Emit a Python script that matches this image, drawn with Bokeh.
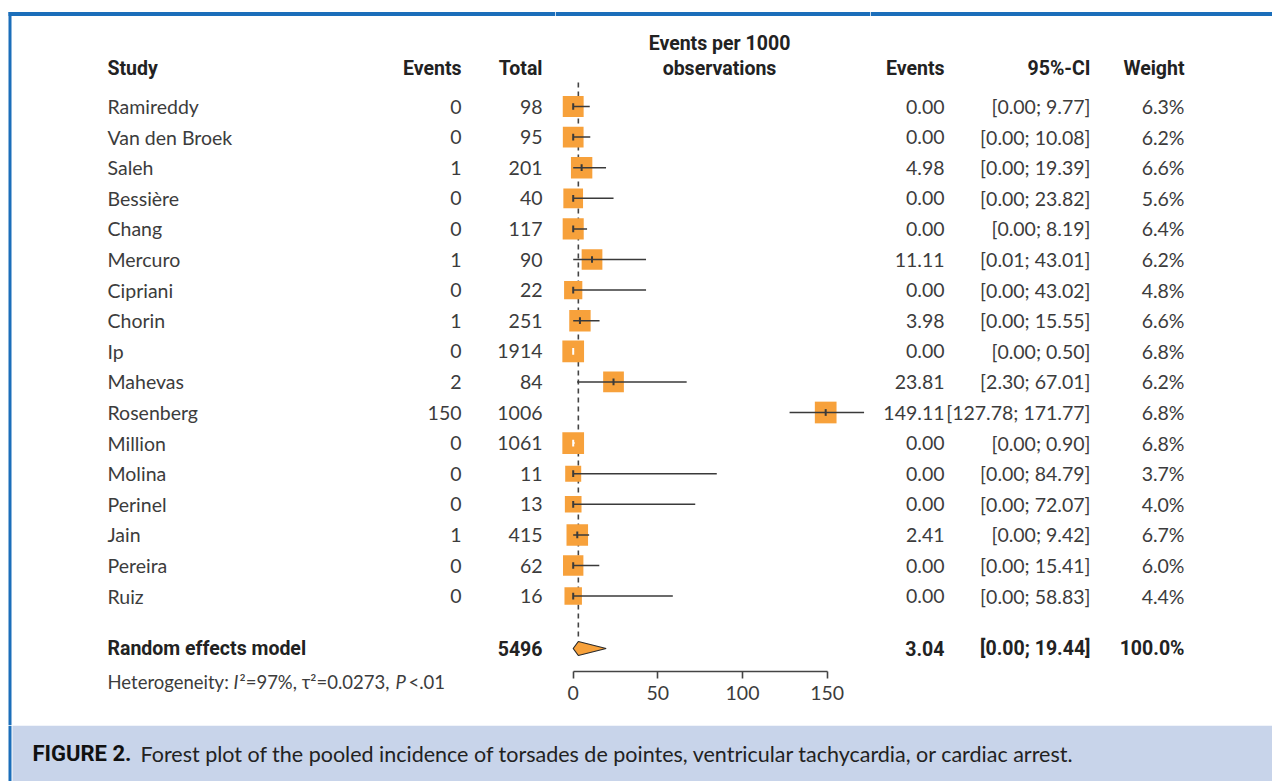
import math
from bokeh.plotting import figure
from bokeh.models import Range1d, LinearAxis, FixedTicker, ColumnDataSource
from bokeh.layouts import row, column
from bokeh.core.properties import value
from bokeh.embed import file_html
from bokeh.resources import INLINE

# ---------------- data ----------------
studies = ["Ramireddy", "Van den Broek", "Saleh", "Bessière", "Chang", "Mercuro",
           "Cipriani", "Chorin", "Ip", "Mahevas", "Rosenberg", "Million", "Molina",
           "Perinel", "Jain", "Pereira", "Ruiz"]
events = [0, 0, 1, 0, 0, 1, 0, 1, 0, 2, 150, 0, 0, 0, 1, 0, 0]
totals = [98, 95, 201, 40, 117, 90, 22, 251, 1914, 84, 1006, 1061, 11, 13, 415, 62, 16]
rate = [0.00, 0.00, 4.98, 0.00, 0.00, 11.11, 0.00, 3.98, 0.00, 23.81, 149.11,
        0.00, 0.00, 0.00, 2.41, 0.00, 0.00]
ci_low = [0.00, 0.00, 0.00, 0.00, 0.00, 0.01, 0.00, 0.00, 0.00, 2.30, 127.78,
          0.00, 0.00, 0.00, 0.00, 0.00, 0.00]
ci_high = [9.77, 10.08, 19.39, 23.82, 8.19, 43.01, 43.02, 15.55, 0.50, 67.01, 171.77,
           0.90, 84.79, 72.07, 9.42, 15.41, 58.83]
weight = [6.3, 6.2, 6.6, 5.6, 6.4, 6.2, 4.8, 6.6, 6.8, 6.2, 6.8, 6.8, 3.7, 4.0, 6.7, 6.0, 4.4]

pooled_label = "Random effects model"
pooled_total = 5496
pooled_rate = 3.04
pooled_low = 0.00
pooled_high = 19.44
pooled_weight = 100.0

axis_ticks = [0, 50, 100, 150]
col_headers = ["Study", "Events", "Total", "Events", "95%-CI", "Weight"]
plot_header = ["Events per 1000", "observations"]
caption_bold = "FIGURE 2."
caption_text = "Forest plot of the pooled incidence of torsades de pointes, ventricular tachycardia, or cardiac arrest."
het_parts = ["Heterogeneity:", "I", "²=97%, τ²=0.0273,", "P", "<.01"]

# ---------------- styles / layout ----------------
ORANGE = "#F7A13B"
DARK = "#3a3a3a"
TEXT = "#3c3c3c"
HEAD = "#222222"
BLUE = "#1B6EBA"
CAPBG = "#C8D4EA"
REG = "Lato"
BOLD = "Roboto"
FS = "19.5px"

ROW0 = 106.0   # page y of first study row
ROWH = 30.6    # row pitch in px


def ry(P):
    return (P - ROW0) / ROWH


PAGE_TOP, SPLIT, BOTTOM = 0, 725, 781
AXIS_Y = 671


def base_fig(width, height, x_range, ptop, pbot, mbb=0):
    p = figure(width=width, height=height, x_range=x_range,
               y_range=Range1d(ry(pbot), ry(ptop)),
               output_backend="svg", toolbar_location=None,
               x_axis_type=None, y_axis_type=None,
               min_border_left=0, min_border_right=0, min_border_top=0,
               min_border_bottom=mbb, frame_align=False)
    p.outline_line_color = None
    p.background_fill_color = "white"
    p.border_fill_color = "white"
    return p


def add_text(p, xs, ys, texts, align, bold=False, size=FS, color=TEXT, italic=False):
    src = ColumnDataSource(dict(x=xs, y=ys, t=texts))
    style = "bold" if bold else ("italic" if italic else "normal")
    p.text(x="x", y="y", text="t", source=src, text_align=align,
           text_baseline="middle",
           text_font=value(BOLD if bold else REG), text_font_style=style,
           text_font_size=size, text_color=HEAD if bold else color)


n = len(studies)
rows = list(range(n))
HEAD_Y = ry(68)
HEAD_Y2 = ry(43)
RE_Y = ry(648)
HET_Y = ry(681)

# ---------------- left table ----------------
L0, L1 = 0, 555
left = base_fig(L1 - L0, SPLIT - PAGE_TOP, Range1d(L0, L1), PAGE_TOP, SPLIT)
left.quad(left=[8], right=[11], top=[ry(11.5)], bottom=[ry(SPLIT)], fill_color=BLUE, line_color=None)
left.quad(left=[8], right=[L1], top=[ry(11.5)], bottom=[ry(15.5)], fill_color=BLUE, line_color=None)

X_STUDY, X_EV, X_TOT = 107, 461, 542
add_text(left, [X_STUDY], [HEAD_Y], [col_headers[0]], "left", bold=True)
add_text(left, [X_EV, X_TOT], [HEAD_Y, HEAD_Y], col_headers[1:3], "right", bold=True)
add_text(left, [X_STUDY] * n, rows, studies, "left")
add_text(left, [X_EV] * n, rows, [str(e) for e in events], "right")
add_text(left, [X_TOT] * n, rows, [str(t) for t in totals], "right")
add_text(left, [X_STUDY], [RE_Y], [pooled_label], "left", bold=True)
add_text(left, [X_TOT], [RE_Y], [str(pooled_total)], "right", bold=True)
het_x = [107, 233, 239, 395, 408]
for hx, part, it in zip(het_x, het_parts, [False, True, False, True, False]):
    add_text(left, [hx], [HET_Y], [part], "left", italic=it, size="18.5px")

# ---------------- forest panel ----------------
M0, M1 = L1, 870
PX_PER = (826.7 - 572.7) / 150.0
ZERO_PX = 572.7
xs0 = (M0 - ZERO_PX) / PX_PER
xs1 = (M1 - ZERO_PX) / PX_PER
mid = base_fig(M1 - M0, SPLIT - PAGE_TOP, Range1d(xs0, xs1), PAGE_TOP, AXIS_Y,
               mbb=SPLIT - AXIS_Y)
mid.quad(left=[xs0], right=[xs1], top=[ry(11.5)], bottom=[ry(15.5)], fill_color=BLUE, line_color=None)

ax = LinearAxis(ticker=FixedTicker(ticks=axis_ticks), bounds=(axis_ticks[0], axis_ticks[-1]))
ax.axis_line_color = "#444444"
ax.axis_line_width = 1.6
ax.major_tick_line_color = "#444444"
ax.major_tick_line_width = 1.6
ax.major_tick_out = 7
ax.major_tick_in = 0
ax.minor_tick_line_color = None
ax.major_label_text_font = REG
ax.major_label_text_font_size = FS
ax.major_label_text_color = TEXT
ax.major_label_standoff = 7
mid.add_layout(ax, "below")

# header
hx = (719 - ZERO_PX) / PX_PER
add_text(mid, [hx, hx], [HEAD_Y2, HEAD_Y], plot_header, "center", bold=True)

# reference dashed line at pooled estimate
mid.segment(x0=[pooled_rate], y0=[ry(82)], x1=[pooled_rate], y1=[ry(638)],
            line_color="#444444", line_width=1.6, line_dash="5 4")

# squares (area proportional to weight)
sizes = [21.7 * math.sqrt(w / 6.8) for w in weight]
mid.rect(x=rate, y=rows, width=sizes, height=sizes, width_units="screen",
         height_units="screen", fill_color=ORANGE, line_color=None)

# CI lines (white when entirely inside square)
half = [s / 2.0 / PX_PER for s in sizes]
line_cols = ["white" if (lo >= r - h and hi <= r + h) else DARK
             for lo, hi, r, h in zip(ci_low, ci_high, rate, half)]
mid.segment(x0=ci_low, y0=rows, x1=ci_high, y1=rows, line_color=line_cols, line_width=1.5)
mid.segment(x0=rate, y0=[r - 0.11 for r in rows], x1=rate, y1=[r + 0.11 for r in rows],
            line_color=line_cols, line_width=2)

# diamond
dh = 7.0 / ROWH
mid.patch(x=[pooled_low, pooled_rate, pooled_high, pooled_rate],
          y=[RE_Y, RE_Y - dh, RE_Y, RE_Y + dh],
          fill_color=ORANGE, line_color="#2a2a2a", line_width=1.2)

# ---------------- right table ----------------
R0, R1 = M1, 1272
right = base_fig(R1 - R0, SPLIT - PAGE_TOP, Range1d(R0, R1), PAGE_TOP, SPLIT)
right.quad(left=[R0], right=[R1], top=[ry(11.5)], bottom=[ry(15.5)], fill_color=BLUE, line_color=None)
X_RATE, X_CI, X_W = 944, 1090, 1184
add_text(right, [X_RATE, X_CI, X_W], [HEAD_Y] * 3, col_headers[3:], "right", bold=True)
add_text(right, [X_RATE] * n, rows, [f"{r:.2f}" for r in rate], "right")
add_text(right, [X_CI] * n, rows, [f"[{lo:.2f}; {hi:.2f}]" for lo, hi in zip(ci_low, ci_high)], "right")
add_text(right, [X_W] * n, rows, [f"{w:.1f}%" for w in weight], "right")
add_text(right, [X_RATE, X_CI, X_W], [RE_Y] * 3,
         [f"{pooled_rate:.2f}", f"[{pooled_low:.2f}; {pooled_high:.2f}]", f"{pooled_weight:.1f}%"],
         "right", bold=True)

# ---------------- caption ----------------
cap = figure(width=1272, height=BOTTOM - SPLIT, x_range=Range1d(0, 1272),
             y_range=Range1d(BOTTOM, SPLIT), output_backend="svg", toolbar_location=None,
             x_axis_type=None, y_axis_type=None, min_border_left=0, min_border_right=0,
             min_border_top=0, min_border_bottom=0, frame_align=False)
cap.outline_line_color = None
cap.background_fill_color = "white"
cap.border_fill_color = "white"
cap.quad(left=[8], right=[11], top=[SPLIT], bottom=[BOTTOM], fill_color=BLUE, line_color=None)
cap.quad(left=[12], right=[1272], top=[SPLIT], bottom=[BOTTOM], fill_color=CAPBG, line_color=None)
cap.text(x=[32], y=[753], text=[caption_bold], text_align="left", text_baseline="middle",
         text_font=value(BOLD), text_font_style="bold", text_font_size="22px", text_color="#111111")
cap.text(x=[140], y=[753], text=[caption_text], text_align="left", text_baseline="middle",
         text_font=value(REG), text_font_size="21.5px", text_color="#222222")

layout = column(row(left, mid, right, spacing=0), cap, spacing=0)
open("out.html", "w").write(file_html(layout, INLINE))
